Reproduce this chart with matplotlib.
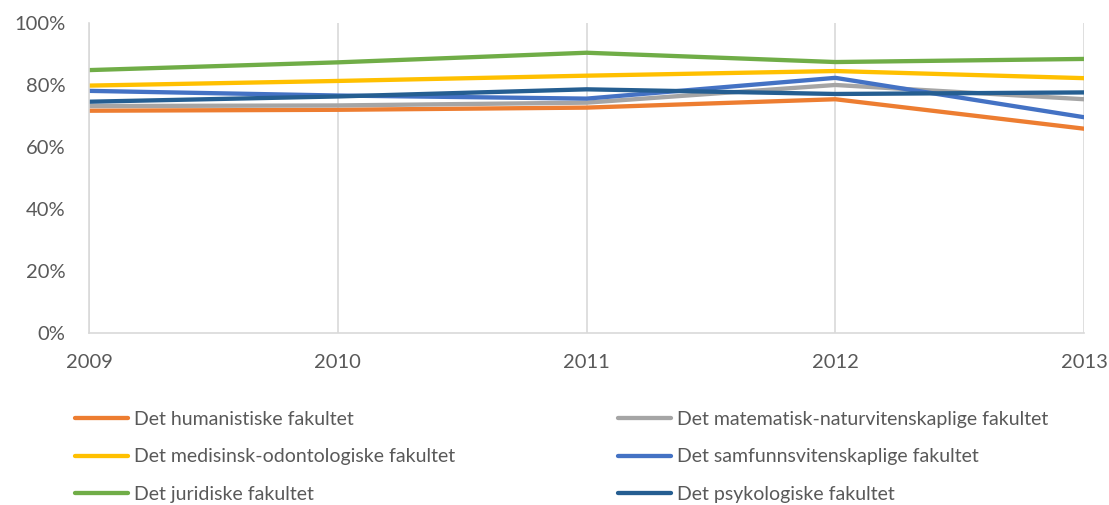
import matplotlib.pyplot as plt
from matplotlib.ticker import FuncFormatter

years = [2009, 2010, 2011, 2012, 2013]

# share per faculty (percent)
humanistiske = [71.7, 72.0, 72.7, 75.4, 65.9]
matematisk = [73.2, 73.4, 74.3, 80.0, 75.4]
medisinsk = [79.8, 81.3, 83.0, 84.5, 82.2]
samfunn = [78.1, 76.6, 75.6, 82.3, 69.6]
juridiske = [84.8, 87.3, 90.4, 87.4, 88.4]
psykologiske = [74.6, 76.3, 78.6, 77.1, 77.6]

labels = [
    "Det humanistiske fakultet",
    "Det matematisk-naturvitenskaplige fakultet",
    "Det medisinsk-odontologiske fakultet",
    "Det samfunnsvitenskaplige fakultet",
    "Det juridiske fakultet",
    "Det psykologiske fakultet",
]
colors = ["#ED7D31", "#A5A5A5", "#FFC000", "#4472C4", "#70AD47", "#255E91"]
series = [humanistiske, matematisk, medisinsk, samfunn, juridiske, psykologiske]

text_color = "#595959"
grid_color = "#D9D9D9"

plt.rcParams['font.family'] = ['Lato', 'DejaVu Sans']

fig = plt.figure(figsize=(11.09, 5.05), dpi=100)
ax = fig.add_axes([0.0803, 0.3406, 0.8972, 0.6139])

lines = []
for vals, col, lab in zip(series, colors, labels):
    ln, = ax.plot(years, vals, color=col, lw=3.1, label=lab, solid_capstyle='round')
    lines.append(ln)

ax.set_xlim(2009, 2013)
ax.set_ylim(0, 100)
ax.set_xticks(years)
ax.set_yticks(range(0, 101, 20))
ax.yaxis.set_major_formatter(FuncFormatter(lambda v, p: f"{int(v)}%"))
ax.tick_params(axis='both', length=0, labelsize=14.5, labelcolor=text_color)
ax.tick_params(axis='x', pad=15)
ax.tick_params(axis='y', pad=17)
ax.grid(axis='x', color=grid_color, lw=1.2)
ax.set_axisbelow(True)
for side in ['top', 'right']:
    ax.spines[side].set_visible(False)
for side in ['left', 'bottom']:
    ax.spines[side].set_color(grid_color)
    ax.spines[side].set_linewidth(1.2)

# two single-column legends so each column sits where it does in the original
leg_kw = dict(frameon=False, fontsize=14, handlelength=2.75, handletextpad=0.28,
              labelspacing=1.05, borderpad=0, borderaxespad=0, labelcolor=text_color)
leg1 = fig.legend([lines[0], lines[2], lines[4]], [labels[0], labels[2], labels[4]],
                  loc='upper left', bbox_to_anchor=(75 / 1109, 1 - 411 / 505), **leg_kw)
leg2 = fig.legend([lines[1], lines[3], lines[5]], [labels[1], labels[3], labels[5]],
                  loc='upper left', bbox_to_anchor=(618 / 1109, 1 - 411 / 505), **leg_kw)

fig.savefig("out.png", dpi=100)
